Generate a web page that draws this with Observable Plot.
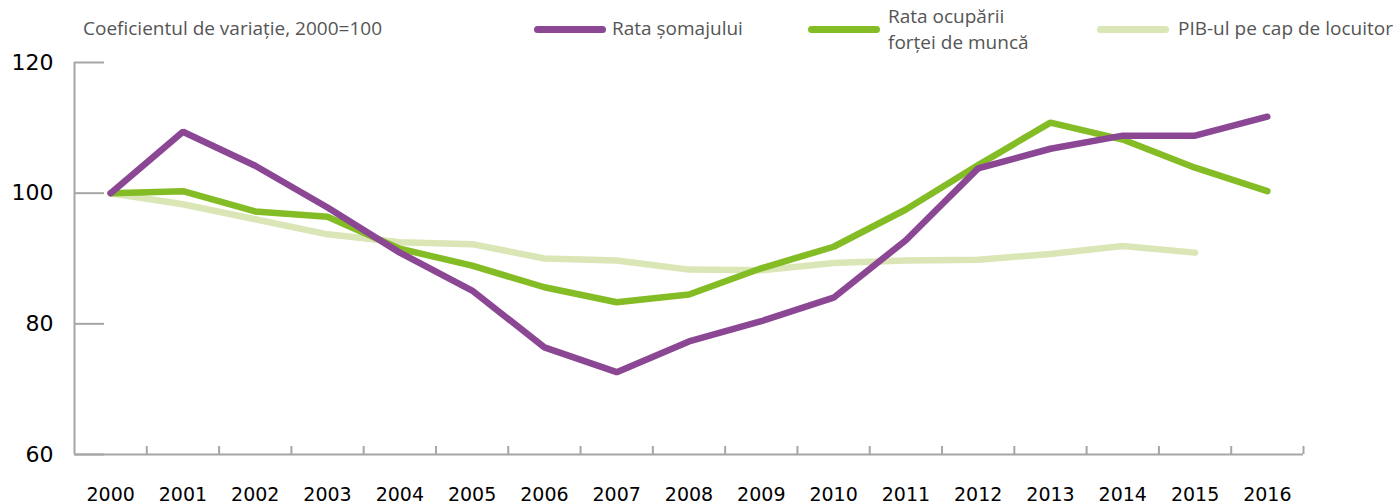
<!DOCTYPE html>
<html>
<head>
<meta charset="utf-8">
<script src="https://cdn.jsdelivr.net/npm/d3@7"></script>
<script src="https://cdn.jsdelivr.net/npm/@observablehq/plot@0.6"></script>
<style>
  body { margin: 0; background: #fff; }
  #wrap { width: 1400px; position: relative; }
  #legend { position: relative; height: 50px; font-family: "Open Sans", "Noto Sans", sans-serif; color: #555; font-size: 19px; }
  #legend .t { position: absolute; white-space: nowrap; line-height: 23px; }
  #legend .sw { position: absolute; height: 7px; border-radius: 4px; width: 72px; }
  svg { display: block; }
</style>
</head>
<body>
<div id="wrap">
  <div id="legend"></div>
  <div id="chart"></div>
</div>
<script>
const years = [2000, 2001, 2002, 2003, 2004, 2005, 2006, 2007, 2008, 2009, 2010, 2011, 2012, 2013, 2014, 2015, 2016];
const somaj = [100, 109.4, 104.2, 97.8, 90.9, 85.1, 76.4, 72.6, 77.3, 80.4, 84.0, 92.8, 103.8, 106.8, 108.8, 108.8, 111.7];
const ocupare = [100, 100.3, 97.2, 96.4, 91.5, 88.9, 85.6, 83.3, 84.5, 88.5, 91.8, 97.5, 104.3, 110.8, 108.2, 103.9, 100.3];
const pib = [100, 98.3, 96.0, 93.7, 92.5, 92.2, 90.0, 89.7, 88.3, 88.2, 89.3, 89.7, 89.8, 90.7, 91.9, 90.9];
const yTicks = [60, 80, 100, 120];
const seriesNames = ["Rata șomajului", "Rata ocupării\nforței de muncă", "PIB-ul pe cap de locuitor"];
const seriesColors = ["#8b4794", "#84bc25", "#dae6b6"];
const subtitle = "Coeficientul de variație, 2000=100";

// legend
const legend = document.getElementById("legend");
const addText = (txt, left, top) => {
  txt.split("\n").forEach((line, j) => {
    const d = document.createElement("div");
    d.className = "t"; d.style.left = left + "px"; d.style.top = (top + j * 26) + "px";
    d.textContent = line;
    legend.appendChild(d);
  });
};
addText(subtitle, 83, 17);
const legendPos = [[534, 612, 17], [808, 888, 5], [1097, 1178, 17]];
seriesNames.forEach((name, i) => {
  const [sx, tx, ty] = legendPos[i];
  const s = document.createElement("div");
  s.className = "sw"; s.style.left = sx + "px"; s.style.top = "26px"; s.style.background = seriesColors[i];
  legend.appendChild(s);
  addText(name, tx, ty);
});

const data = [];
[pib, ocupare, somaj].forEach((arr, k) => {
  const name = [seriesNames[2], seriesNames[1], seriesNames[0]][k];
  arr.forEach((v, i) => data.push({series: name, year: years[i], value: v}));
});
const boundaries = years.map(y => y + 0.5);
const xDomain = [years[0] - 0.5, years[years.length - 1] + 0.5];
const axisColor = "#a6a6a6";

const chart = Plot.plot({
  width: 1400,
  height: 454,
  marginTop: 12,
  marginBottom: 50,
  marginLeft: 74,
  marginRight: 97,
  style: {fontFamily: "DejaVu Sans, sans-serif", background: "#fff", overflow: "visible"},
  x: {type: "linear", domain: xDomain, label: null},
  y: {domain: [60, 120], label: null},
  color: {domain: [seriesNames[0], seriesNames[1], seriesNames[2]], range: seriesColors},
  marks: [
    Plot.ruleY([60], {stroke: axisColor, strokeWidth: 2}),
    Plot.ruleX([xDomain[0]], {y1: 60, y2: 120, stroke: axisColor, strokeWidth: 2}),
    Plot.axisY(yTicks, {anchor: "left", label: null, tickSize: -30, tickPadding: 51, stroke: axisColor, strokeWidth: 2, fill: "#000", fontSize: 22, tickFormat: d => String(d)}),
    Plot.axisX(boundaries, {anchor: "bottom", label: null, tickSize: -8, text: null, stroke: axisColor, strokeWidth: 2}),
    Plot.axisX(years, {anchor: "bottom", label: null, tickSize: 0, tickPadding: 33, fill: "#000", fontSize: 19, tickFormat: d => String(d)}),
    Plot.line(data, {x: "year", y: "value", z: "series", stroke: "series", strokeWidth: 6.5, strokeLinecap: "round", strokeLinejoin: "miter"})
  ]
});
document.getElementById("chart").appendChild(chart);
</script>
</body>
</html>
